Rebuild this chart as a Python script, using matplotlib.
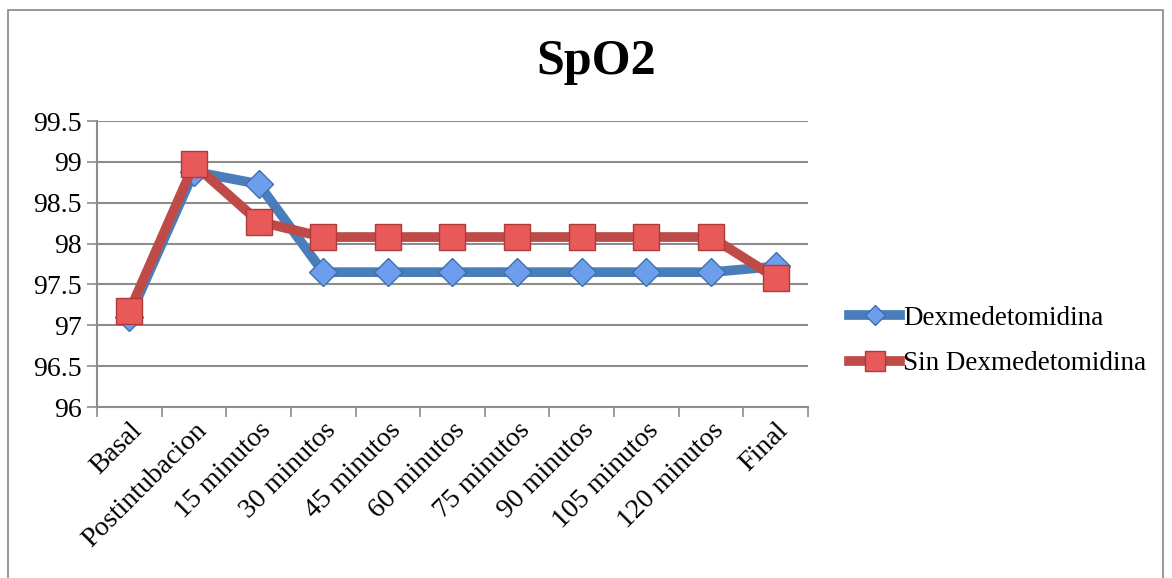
import matplotlib
matplotlib.use("Agg")
import matplotlib.pyplot as plt
from matplotlib.patches import Rectangle
import numpy as np

categories = ["Basal", "Postintubacion", "15 minutos", "30 minutos", "45 minutos",
              "60 minutos", "75 minutos", "90 minutos", "105 minutos", "120 minutos", "Final"]
dex = [97.1, 98.88, 98.73, 97.65, 97.65, 97.65, 97.65, 97.65, 97.65, 97.65, 97.72]
sin_dex = [97.17, 98.97, 98.27, 98.08, 98.08, 98.08, 98.08, 98.08, 98.08, 98.08, 97.58]
yticks = [96, 96.5, 97, 97.5, 98, 98.5, 99, 99.5]
ytick_labels = ["96", "96.5", "97", "97.5", "98", "98.5", "99", "99.5"]

plt.rcParams['font.family'] = ['Liberation Serif', 'DejaVu Serif']

fig = plt.figure(figsize=(11.72, 5.78), dpi=100)
fig.patches.append(Rectangle((8/1172, -0.01), (1163-8)/1172, 1 - 10/578 + 0.01,
                             transform=fig.transFigure, fill=False,
                             edgecolor="#888888", linewidth=1.2))
ax = fig.add_axes([97/1172, 1-407/578, (808-97)/1172, (407-121)/578])

x = np.arange(len(categories))
ax.plot(x, dex, color="#4a7ebb", linewidth=7, marker="D", markersize=14,
        markerfacecolor="#6d9eeb", markeredgecolor="#3f6fb0", markeredgewidth=1,
        label="Dexmedetomidina", solid_joinstyle="round", zorder=3)
ax.plot(x, sin_dex, color="#be4b48", linewidth=7, marker="s", markersize=19,
        markerfacecolor="#e8595a", markeredgecolor="#b03a38", markeredgewidth=1,
        label="Sin Dexmedetomidina", solid_joinstyle="round", zorder=4)

ax.set_xlim(-0.5, len(categories) - 0.5)
ax.set_ylim(96, 99.5)
ax.set_yticks(yticks)
ax.set_yticklabels(ytick_labels, fontsize=20)
ax.yaxis.grid(True, color="#8c8c8c", linewidth=1.5)
ax.set_axisbelow(True)

ax.set_xticks(x)
ax.set_xticklabels(categories, rotation=45, ha="right", rotation_mode="anchor", fontsize=20)
ax.tick_params(axis="x", length=0, pad=8)
ax.set_xticks(np.arange(-0.5, len(categories), 1), minor=True)
ax.tick_params(axis="x", which="minor", length=7, color="#8c8c8c", width=1.2)
ax.tick_params(axis="y", length=7, color="#8c8c8c", width=1.2, pad=4)

for s in ["top", "right"]:
    ax.spines[s].set_visible(False)
for s in ["left", "bottom"]:
    ax.spines[s].set_color("#8c8c8c")
    ax.spines[s].set_linewidth(1.5)

fig.text(596/1172, 1-62/578, "SpO2", fontsize=36, fontweight="bold",
         ha="center", va="center")

leg = fig.legend(loc="center left", bbox_to_anchor=(838/1172, 1-341/578),
                 frameon=False, fontsize=19.5, handlelength=1.9, handletextpad=0.1,
                 labelspacing=0.75, borderaxespad=0)
for h in leg.legend_handles:
    h.set_markersize(h.get_markersize() * 0.75)

fig.savefig("out.png", dpi=100)
